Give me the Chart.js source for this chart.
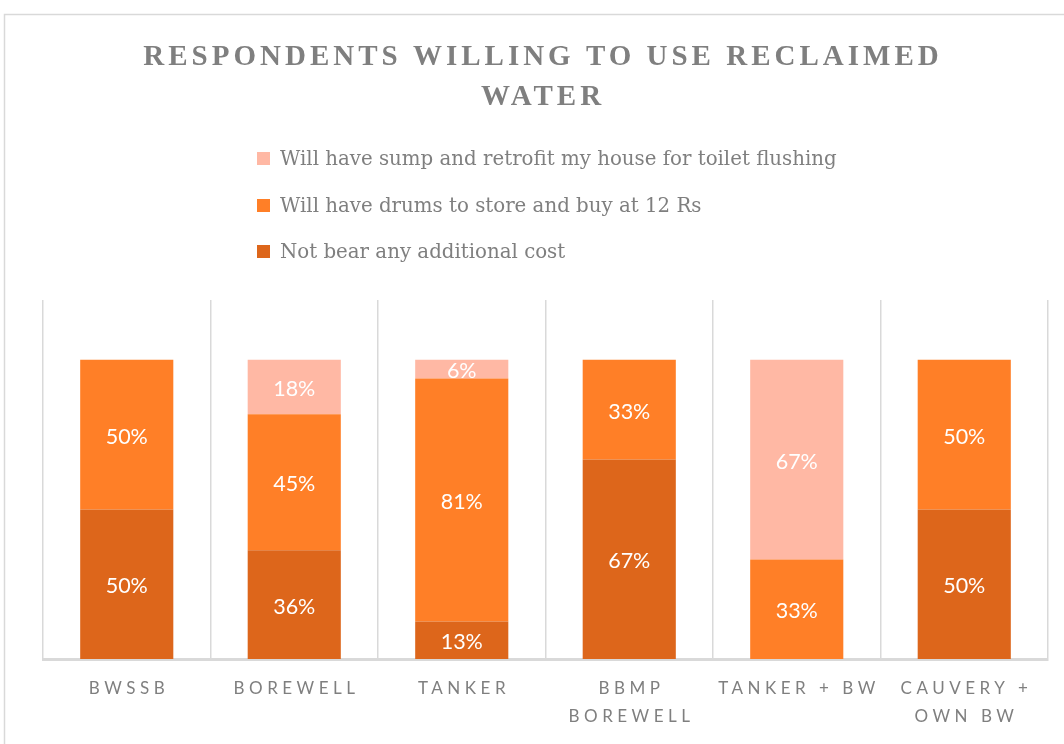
<!DOCTYPE html>
<html>
<head>
<meta charset="utf-8">
<script src="https://cdn.jsdelivr.net/npm/chart.js@4.4.1/dist/chart.umd.min.js"></script>
<style>
html,body{margin:0;padding:0;background:#fff;}
#wrap{width:1064px;height:744px;position:relative;}
</style>
</head>
<body>
<div id="wrap"><canvas id="c" width="1064" height="744"></canvas></div>
<script>
const titleLines = ['RESPONDENTS WILLING TO USE RECLAIMED', 'WATER'];
const categories = [['BWSSB'], ['BOREWELL'], ['TANKER'], ['BBMP', 'BOREWELL'], ['TANKER + BW'], ['CAUVERY +', 'OWN BW']];
const seriesNames = ['Not bear any additional cost', 'Will have drums to store and buy at 12 Rs', 'Will have sump and retrofit my house for toilet flushing'];
const notBear = [50, 36.36, 12.5, 66.7, 0, 50];
const drums = [50, 45.45, 81.25, 33.3, 33.3, 50];
const sump = [0, 18.18, 6.25, 0, 66.7, 0];
const colors = ['#DD661B', '#FF7F27', '#FFB8A4'];

const gridColor = '#d9d9d9';
const textGray = '#7f7f7f';

const overlay = {
  id: 'overlay',
  beforeDraw(chart) {
    const ctx = chart.ctx;
    ctx.save();
    ctx.fillStyle = '#fff';
    ctx.fillRect(0, 0, chart.width, chart.height);
    ctx.strokeStyle = gridColor;
    ctx.lineWidth = 1.5;
    ctx.beginPath();
    ctx.moveTo(4.5, chart.height + 2);
    ctx.lineTo(4.5, 14.5);
    ctx.lineTo(chart.width + 2, 14.5);
    ctx.stroke();
    ctx.restore();
  },
  afterDraw(chart) {
    const ctx = chart.ctx;
    ctx.save();
    // title
    ctx.fillStyle = textGray;
    ctx.font = 'bold 29px "Liberation Serif"';
    ctx.letterSpacing = '4px';
    ctx.textAlign = 'left';
    ctx.textBaseline = 'middle';
    const tys = [58, 98];
    titleLines.forEach((t, i) => {
      const w = ctx.measureText(t).width - 4;
      ctx.fillText(t, 541 - w / 2, tys[i]);
    });
    // legend
    ctx.letterSpacing = '0px';
    ctx.font = '19.8px "DejaVu Serif"';
    const lys = [158, 205, 251];
    [2, 1, 0].forEach((di, i) => {
      ctx.fillStyle = colors[di];
      ctx.fillRect(257, lys[i] - 6, 13, 13);
      ctx.fillStyle = textGray;
      ctx.fillText(seriesNames[di], 280, lys[i] + 1.5);
    });
    // category labels
    const xs = chart.scales.x;
    ctx.font = '17px Lato';
    ctx.letterSpacing = '4.5px';
    ctx.fillStyle = textGray;
    categories.forEach((lines, i) => {
      const cx = xs.getPixelForValue(i);
      lines.forEach((ln, j) => {
        const w = ctx.measureText(ln).width - 4.5;
        ctx.fillText(ln, cx - w / 2, 689 + j * 28);
      });
    });
    ctx.restore();
  },
  afterDatasetsDraw(chart) {
    const ctx = chart.ctx;
    ctx.save();
    ctx.fillStyle = '#fff';
    ctx.font = '21.5px Lato';
    ctx.textAlign = 'center';
    ctx.textBaseline = 'middle';
    chart.data.datasets.forEach((ds, di) => {
      const meta = chart.getDatasetMeta(di);
      meta.data.forEach((el, i) => {
        const v = ds.data[i];
        if (!v) return;
        ctx.fillText(Math.round(v) + '%', el.x, (el.y + el.base) / 2 + 2);
      });
    });
    ctx.restore();
  }
};

new Chart(document.getElementById('c'), {
  type: 'bar',
  data: {
    labels: categories.map(c => c.join(' ')),
    datasets: [
      { label: seriesNames[0], data: notBear, backgroundColor: colors[0] },
      { label: seriesNames[1], data: drums, backgroundColor: colors[1] },
      { label: seriesNames[2], data: sump, backgroundColor: colors[2] }
    ]
  },
  options: {
    responsive: false,
    animation: false,
    layout: { padding: { left: 43, right: 16, top: 300, bottom: 85 } },
    datasets: { bar: { categoryPercentage: 1, barPercentage: 0.556, borderWidth: 0 } },
    plugins: { legend: { display: false }, title: { display: false }, tooltip: { enabled: false } },
    scales: {
      x: {
        stacked: true,
        ticks: { display: false },
        grid: { display: true, offset: true, color: gridColor, lineWidth: 1.5, drawTicks: false },
        border: { display: true, color: gridColor, width: 3 }
      },
      y: {
        stacked: true,
        display: false,
        min: 0,
        max: 120
      }
    }
  },
  plugins: [overlay]
});
</script>
</body>
</html>
